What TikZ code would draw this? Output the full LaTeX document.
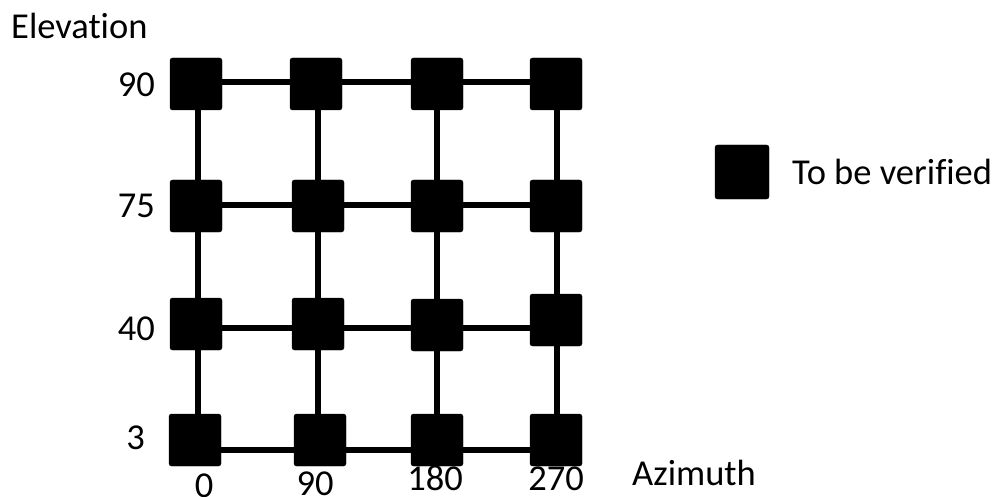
\documentclass[tikz,border=0pt]{standalone}
\usepackage{fontspec}
\setmainfont[Ligatures=NoCommon]{Carlito}
\begin{document}
\begin{tikzpicture}[x=1pt,y=-1pt,
  sq/.style={draw=black,fill=black,rounded corners=2.5pt,minimum size=52pt,inner sep=0pt},
  conn/.style={line width=5.5pt,black},
  lbl/.style={font=\fontsize{36.5}{40}\selectfont,inner sep=0pt}]
\useasboundingbox (0,0) rectangle (1003,497);
% line tracks
\coordinate (r1) at (0,82);
\coordinate (r2) at (0,205);
\coordinate (r3) at (0,328);
\coordinate (r4) at (0,450);
\coordinate (ca) at (198,0);
\coordinate (cb) at (318,0);
\coordinate (cc) at (437,0);
\coordinate (cd) at (557,0);
% grid nodes
\node[sq] (a1) at (196,84) {};
\node[sq] (b1) at (316,84) {};
\node[sq] (c1) at (437,84) {};
\node[sq] (d1) at (556,84) {};
\node[sq] (a2) at (196,206) {};
\node[sq] (b2) at (318,206) {};
\node[sq] (c2) at (437,206) {};
\node[sq] (d2) at (556,206) {};
\node[sq] (a3) at (196,324) {};
\node[sq] (b3) at (318,324) {};
\node[sq] (c3) at (437,325) {};
\node[sq] (d3) at (556,320) {};
\node[sq] (a4) at (195,440) {};
\node[sq] (b4) at (320,440) {};
\node[sq] (c4) at (437,440) {};
\node[sq] (d4) at (556,440) {};
% connectors
\foreach \r in {1,2,3,4}{
  \draw[conn] (a\r.east |- r\r) -- (b\r.west |- r\r);
  \draw[conn] (b\r.east |- r\r) -- (c\r.west |- r\r);
  \draw[conn] (c\r.east |- r\r) -- (d\r.west |- r\r);
}
\foreach \c in {a,b,c,d}{
  \draw[conn] (\c1.south -| c\c) -- (\c2.north -| c\c);
  \draw[conn] (\c2.south -| c\c) -- (\c3.north -| c\c);
  \draw[conn] (\c3.south -| c\c) -- (\c4.north -| c\c);
}
% axis labels
\node[lbl,anchor=base west] (elev) at (11,39) {Elevation};
\node[lbl,anchor=base east] (e90) at (155,97) {90};
\node[lbl,anchor=base east] (e75) at (155,217) {75};
\node[lbl,anchor=base east] (e40) at (155,340) {40};
\node[lbl,anchor=base east] (e3) at (145,449) {3};
\node[lbl,anchor=base] (z0) at (204,497) {0};
\node[lbl,anchor=base] (z90) at (315,495) {90};
\node[lbl,anchor=base] (z180) at (435,490) {180};
\node[lbl,anchor=base] (z270) at (556,490) {270};
\node[lbl,anchor=base west] (azi) at (632,485) {Azimuth};
% legend
\node[sq,minimum size=54pt] (leg) at (742,172) {};
\node[lbl,anchor=base west] (legt) at (792,185) {To be verified};
\end{tikzpicture}
\end{document}
